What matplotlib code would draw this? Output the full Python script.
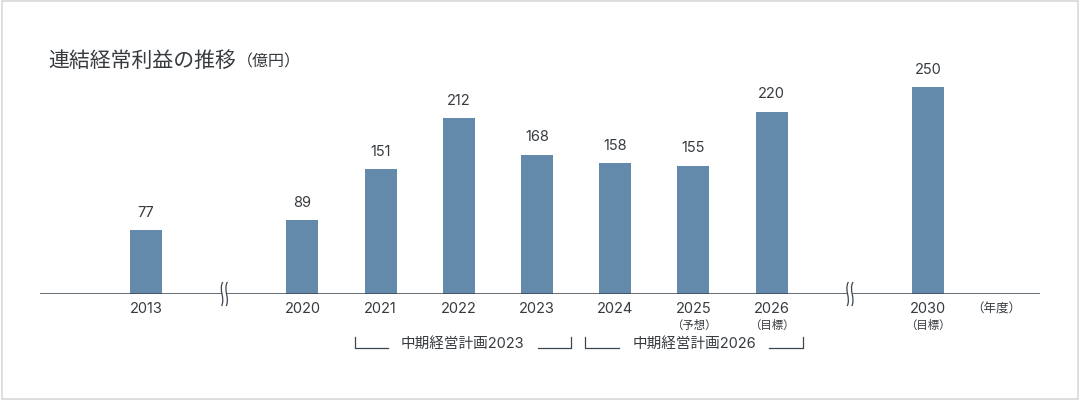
import matplotlib
matplotlib.use("Agg")
import matplotlib.pyplot as plt
from matplotlib.path import Path
from matplotlib.patches import PathPatch, Rectangle
import matplotlib.transforms as mtransforms

FAM = ['Inter', 'Noto Sans CJK JP', 'DejaVu Sans']
CJK = ['Noto Sans CJK JP', 'DejaVu Sans']
plt.rcParams['font.family'] = FAM

# ---- data ----
years = ["2013", "2020", "2021", "2022", "2023", "2024", "2025", "2026", "2030"]
values = [77, 89, 151, 212, 168, 158, 155, 220, 250]
slots = [0, 2, 3, 4, 5, 6, 7, 8, 10]
sub_labels = {"2025": "（予想）", "2026": "（目標）", "2030": "（目標）"}
break_slots = [1, 9]
plans = [("中期経営計画2023", 2.67, 5.43), ("中期経営計画2026", 5.62, 8.4)]
title = "連結経常利益の推移"
unit = "（億円）"
year_unit = "（年度）"

bar_color = "#648aab"
text_color = "#363b40"
axis_color = "#3c4650"

W, H = 10.8, 4.0
fig = plt.figure(figsize=(W, H), dpi=100)

# border
fig.patches.append(Rectangle((0.0015, 0.003), 0.997, 0.994, transform=fig.transFigure,
                             fill=False, edgecolor="#d8d8d8", linewidth=1.2))

px_left, px_right = 40, 1040
base_y = 294
top_y = 40
ax = fig.add_axes([px_left / 1080, (400 - base_y) / 400,
                   (px_right - px_left) / 1080, (base_y - top_y) / 400])
slot_px = 78.2
x0 = 146
ax.set_xlim((px_left - x0) / slot_px, (px_right - x0) / slot_px)
ax.set_ylim(0, (base_y - top_y) / 0.828)
ax.axis("off")

bar_w = 32 / slot_px
ax.bar(slots, values, width=bar_w, color=bar_color, zorder=2)
ax.axhline(0, color=axis_color, linewidth=1.1, zorder=3)

for s, v in zip(slots, values):
    ax.annotate(str(v), (s, v), xytext=(0, 7.5), textcoords="offset points",
                ha="center", va="bottom", fontsize=10.5, color=text_color)

trans = mtransforms.blended_transform_factory(ax.transData, fig.transFigure)

def fy(py):
    return (400 - py) / 400

for s, y in zip(slots, years):
    ax.text(s, fy(309), y, transform=trans, ha="center", va="center",
            fontsize=10.5, color=text_color)
    if y in sub_labels:
        ax.text(s, fy(325), sub_labels[y], transform=trans, ha="center", va="center",
                fontsize=8.2, color=text_color, family=CJK)

ax.text(10.87, fy(309), year_unit, transform=trans, ha="center", va="center",
        fontsize=9, color=text_color, family=CJK)

# break marks
def break_mark(xs):
    dx = 3.0 / slot_px
    for off in (-2.3 / slot_px, 2.3 / slot_px):
        xc = xs + off
        pts = [(xc + dx * 0.3, fy(282)),
               (xc - dx * 1.2, fy(290)), (xc + dx * 1.2, fy(298)),
               (xc - dx * 0.1, fy(306))]
        path = Path(pts, [Path.MOVETO, Path.CURVE4, Path.CURVE4, Path.CURVE4])
        ax.add_patch(PathPatch(path, transform=trans, fill=False,
                               edgecolor=axis_color, linewidth=0.9, zorder=5,
                               clip_on=False))

for b in break_slots:
    ax.add_patch(Rectangle((b - 2.3 / slot_px, fy(296)), 4.6 / slot_px, 4 / 400,
                           transform=trans, facecolor="white", edgecolor="none",
                           zorder=4, clip_on=False))
    break_mark(b)

# plan brackets
fig.canvas.draw()
renderer = fig.canvas.get_renderer()
for label, xa, xb in plans:
    mid = (xa + xb) / 2
    yb = fy(348)
    yt = fy(337)
    t = ax.text(mid, fy(344), label, transform=trans, ha="center", va="center",
                fontsize=10.5, color=text_color)
    bb = t.get_window_extent(renderer)
    half_text = (bb.width / 2 + 13) / slot_px
    ax.plot([xa, xa, mid - half_text], [yt, yb, yb], transform=trans,
            color=axis_color, linewidth=0.9, clip_on=False)
    ax.plot([mid + half_text, xb, xb], [yb, yb, yt], transform=trans,
            color=axis_color, linewidth=0.9, clip_on=False)

# title
t = fig.text(48 / 1080, fy(61), title, ha="left", va="center", fontsize=15,
             color=text_color, family=CJK)
fig.canvas.draw()
bb = t.get_window_extent()
fig.text(bb.x1 / 1080 + 0.001, fy(62), unit, ha="left", va="center", fontsize=11.5,
         color=text_color, family=CJK)

fig.savefig("out.png", dpi=100)
